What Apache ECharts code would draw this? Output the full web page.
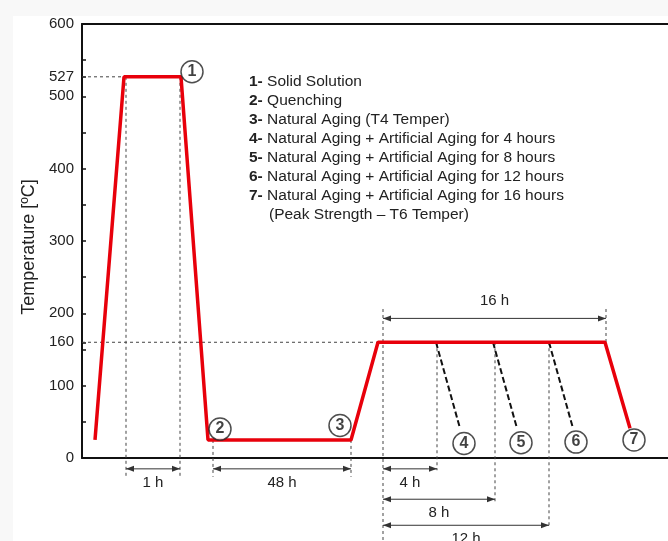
<!DOCTYPE html>
<html>
<head>
<meta charset="utf-8">
<title>Heat treatment schedule</title>
<script src="https://cdn.jsdelivr.net/npm/echarts@6/dist/echarts.min.js"></script>
<style>
  html, body { margin: 0; padding: 0; background: #f8f8f8; }
  #chart { width: 668px; height: 541px; }
</style>
</head>
<body>
<div id="chart"></div>
<script>
// x is a schematic time axis (not to scale), y is temperature in degC
const profileX = [13, 42, 99, 126, 269, 296, 523, 548];
const profileT = [25, 527, 527, 25, 25, 160, 160, 41];

// artificial aging interrupted at 4, 8 and 12 h (dashed black)
const agingStartX = [354, 411, 467];
const agingEndX = [378, 435, 491];
const agingEndT = 41;

// numbered stages
const stageNo = ["1", "2", "3", "4", "5", "6", "7"];
const stageX = [110, 138, 258, 382, 439, 494, 552];
const stageT = [534, 40, 45, 20, 21, 22, 25];

// thin dashed guide lines [x1, t1, x2, t2]
const guides = [
  [0, 527, 42, 527],
  [0, 160, 296, 160],
  [44, 527, 44, -26],
  [98, 527, 98, -26],
  [131, 25, 131, -26],
  [269, 25, 269, -26],
  [301, 206, 301, -115],
  [524, 206, 524, 160],
  [355, 160, 355, -17],
  [413, 160, 413, -60],
  [467, 160, 467, -95]
];

// duration dimensions [x1, x2, t]
const dimX1 = [44, 131, 301, 301, 301, 301];
const dimX2 = [98, 269, 524, 355, 413, 467];
const dimT = [-15, -15, 193, -15, -57, -93];
const dimLabels = ["1 h", "48 h", "16 h", "4 h", "8 h", "12 h"];

const yLabels = [0, 100, 160, 200, 300, 400, 500, 527, 600];
const yTicks = [0, 50, 100, 150, 160, 200, 250, 300, 350, 400, 450, 500, 527, 550, 600];

const notes = [
  ["1-", "Solid Solution"],
  ["2-", "Quenching"],
  ["3-", "Natural Aging (T4 Temper)"],
  ["4-", "Natural Aging + Artificial Aging for 4 hours"],
  ["5-", "Natural Aging + Artificial Aging for 8 hours"],
  ["6-", "Natural Aging + Artificial Aging for 12 hours"],
  ["7-", "Natural Aging + Artificial Aging for 16 hours"],
  ["", "(Peak Strength \u2013 T6 Temper)"]
];

const font = "Liberation Sans, Arial, sans-serif";
const ink = "#222";

const chart = echarts.init(document.getElementById("chart"));

const series = [];

// guide lines
guides.forEach(function (g) {
  series.push({
    type: "line",
    data: [[g[0], g[1]], [g[2], g[3]]],
    symbol: "none",
    clip: false,
    silent: true,
    lineStyle: { color: "#444", width: 1, type: [3, 3] },
    z: 1
  });
});

// dashed aging curves
agingStartX.forEach(function (x, i) {
  series.push({
    type: "line",
    data: [[x, profileT[5]], [agingEndX[i], agingEndT]],
    symbol: "none",
    clip: false,
    silent: true,
    lineStyle: { color: "#111", width: 2, type: [6, 3] },
    z: 2
  });
});

// main profile
series.push({
  type: "line",
  data: profileX.map(function (x, i) { return [x, profileT[i]]; }),
  symbol: "none",
  clip: false,
  silent: true,
  lineStyle: { color: "#e8000b", width: 3.5 },
  z: 3
});

// dimension arrows
series.push({
  type: "custom",
  clip: false,
  silent: true,
  data: dimX1.map(function (x, i) { return [x, dimX2[i], dimT[i]]; }),
  renderItem: function (params, api) {
    const a = api.coord([api.value(0), api.value(2)]);
    const b = api.coord([api.value(1), api.value(2)]);
    const y = a[1];
    const L = 8, H = 3;
    const above = api.value(2) > 0;
    return {
      type: "group",
      children: [
        { type: "line", shape: { x1: a[0], y1: y, x2: b[0], y2: y }, style: { stroke: "#333", lineWidth: 1 } },
        { type: "polygon", shape: { points: [[a[0], y], [a[0] + L, y - H], [a[0] + L, y + H]] }, style: { fill: "#333" } },
        { type: "polygon", shape: { points: [[b[0], y], [b[0] - L, y - H], [b[0] - L, y + H]] }, style: { fill: "#333" } },
        {
          type: "text",
          x: (a[0] + b[0]) / 2,
          y: above ? y - 18 : y + 14,
          style: {
            text: dimLabels[params.dataIndex],
            fill: ink,
            font: "15px " + font,
            align: "center",
            verticalAlign: "middle"
          }
        }
      ]
    };
  },
  z: 4
});

// numbered circles
series.push({
  type: "scatter",
  data: stageX.map(function (x, i) { return { value: [x, stageT[i]], name: stageNo[i] }; }),
  symbol: "circle",
  symbolSize: 22,
  clip: false,
  silent: true,
  itemStyle: { color: "#fff", borderColor: "#222", borderWidth: 1.5 },
  label: {
    show: true,
    position: "inside",
    formatter: "{b}",
    color: "#111",
    fontFamily: font,
    fontWeight: "bold",
    fontSize: 16
  },
  z: 5
});

const graphics = [
  { type: "rect", left: 13, top: 16, shape: { width: 655, height: 525 }, style: { fill: "#fff" }, z: -10, silent: true }
];
notes.forEach(function (n, i) {
  graphics.push({
    type: "text",
    left: n[0] ? 249 : 269,
    top: 74 + i * 19,
    silent: true,
    style: {
      text: n[0] ? "{b|" + n[0] + "} " + n[1] : n[1],
      fill: ink,
      font: "15.5px " + font,
      rich: { b: { fontWeight: "bold", fontSize: 15.5, fontFamily: font, fill: ink } }
    }
  });
});

const option = {
  animation: false,
  backgroundColor: "transparent",
  textStyle: { fontFamily: font },
  grid: { left: 82, right: 0, top: 24, bottom: 83, containLabel: false },
  graphic: graphics,
  xAxis: [
    {
      type: "value", min: 0, max: 586,
      axisLine: { show: true, lineStyle: { color: "#111", width: 2 } },
      axisTick: { show: false }, axisLabel: { show: false }, splitLine: { show: false }
    },
    {
      type: "value", position: "top", min: 0, max: 586,
      axisLine: { show: true, onZero: false, lineStyle: { color: "#111", width: 2 } },
      axisTick: { show: false }, axisLabel: { show: false }, splitLine: { show: false }
    }
  ],
  yAxis: {
    type: "value", min: 0, max: 600,
    name: "Temperature [\u00baC]",
    nameLocation: "middle",
    nameGap: 44,
    nameTextStyle: { color: ink, fontSize: 18, fontFamily: font, padding: [0, 12, 0, 0] },
    axisLine: { show: true, lineStyle: { color: "#111", width: 2 } },
    axisTick: { show: true, inside: true, length: 4, customValues: yTicks, lineStyle: { color: "#111", width: 1.5 } },
    axisLabel: { customValues: yLabels, color: ink, fontSize: 15, fontFamily: font, margin: 8 },
    splitLine: { show: false }
  },
  series: series
};

chart.setOption(option);
</script>
</body>
</html>
